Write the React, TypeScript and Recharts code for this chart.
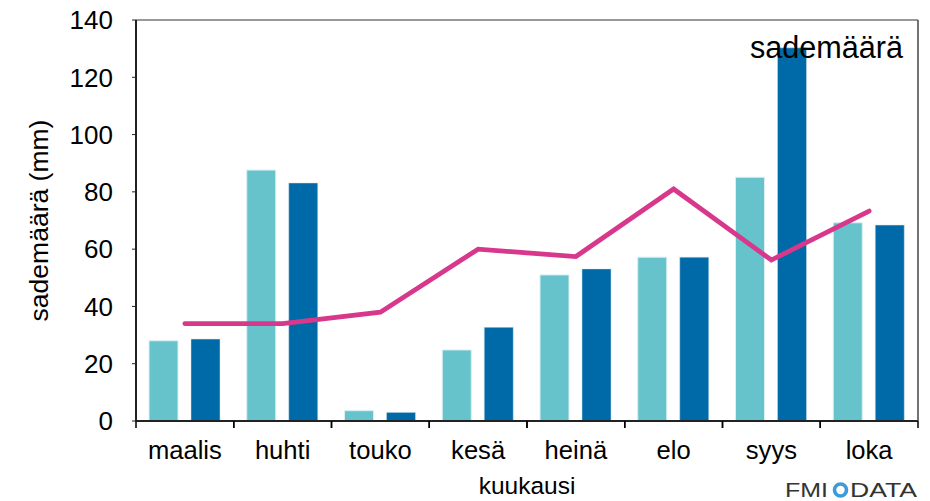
import React from 'react';
import { ComposedChart, Bar, Line, XAxis, YAxis, CartesianGrid } from 'recharts';

const months = ['maalis', 'huhti', 'touko', 'kesä', 'heinä', 'elo', 'syys', 'loka'];
const rainA = [28.0, 87.6, 3.6, 24.8, 51.0, 57.2, 85.1, 69.2];
const rainB = [28.6, 83.1, 3.0, 32.7, 53.1, 57.2, 130.3, 68.4];
const rainAvg = [34, 34, 38, 60, 57.4, 81, 56.2, 73.3];
const yTicks = [0, 20, 40, 60, 80, 100, 120, 140];

const data = months.map((m, i) => ({ m, a: rainA[i], b: rainB[i], avg: rainAvg[i] }));

const FONT = '"Liberation Sans", Arial, sans-serif';

const XTick = (props: any) => {
  const { x, y, payload } = props;
  const off = payload.offset ?? 0;
  return (
    <g>
      <line x1={x - off} x2={x - off} y1={y} y2={y + 7} stroke="#000" strokeWidth={1.5} />
      <line x1={x + off} x2={x + off} y1={y} y2={y + 7} stroke="#000" strokeWidth={1.5} />
      <text x={x} y={y + 20} dy="0.71em" textAnchor="middle" fontSize={25.6} fontFamily={FONT} fill="#000">
        {payload.value}
      </text>
    </g>
  );
};

const YLabel = (props: any) => {
  const vb = props.viewBox || { x: 0, y: 0, width: 0, height: 0 };
  const cx = vb.x + 48;
  const cy = vb.y + vb.height / 2;
  return (
    <text x={cx} y={cy} transform={`rotate(-90 ${cx} ${cy})`} textAnchor="middle" fontSize={26.5} fontFamily={FONT} fill="#000">
      sademäärä (mm)
    </text>
  );
};

const XLabel = (props: any) => {
  const vb = props.viewBox || { x: 0, y: 0, width: 0, height: 0 };
  const cx = vb.x + vb.width / 2;
  return (
    <text x={cx} y={vb.y + 73} textAnchor="middle" fontSize={24.5} fontFamily={FONT} fill="#000">
      kuukausi
    </text>
  );
};

export default function App() {
  return (
    <div style={{ position: 'absolute', left: 0, top: 0, width: 930, height: 501, background: '#fff', fontFamily: FONT }}>
      <ComposedChart width={930} height={501} data={data} margin={{ top: 20, right: 0, left: 0, bottom: 0 }} barSize={29} barGap={13}>
        <CartesianGrid vertical={false} stroke="#333" strokeWidth={1} />
        <XAxis
          dataKey="m"
          height={80}
          tickLine={false}
          tickSize={0}
          tickMargin={0}
          axisLine={{ stroke: '#222', strokeWidth: 2 }}
          tick={<XTick />}
          interval={0}
          label={<XLabel />}
        />
        <YAxis
          yAxisId="l"
          width={136}
          domain={[0, 140]}
          ticks={yTicks}
          tickSize={4}
          tickMargin={19}
          tickLine={{ stroke: '#222' }}
          axisLine={{ stroke: '#222', strokeWidth: 2 }}
          tick={{ fontSize: 26, fill: '#000', fontFamily: FONT }}
          label={<YLabel />}
        />
        <YAxis yAxisId="r" orientation="right" width={12} domain={[0, 140]} ticks={yTicks} tick={false} tickLine={false} axisLine={{ stroke: '#444', strokeWidth: 1.5 }} />
        <Bar yAxisId="l" dataKey="a" fill="#66c3cc" stroke="#d9eff2" strokeWidth={1} isAnimationActive={false} />
        <Bar yAxisId="l" dataKey="b" fill="#0069a7" stroke="#cfe3ef" strokeWidth={0.5} isAnimationActive={false} />
        <Line yAxisId="l" dataKey="avg" type="linear" stroke="#d8388b" strokeWidth={4.8} dot={false} strokeLinecap="round" isAnimationActive={false} />
      </ComposedChart>
      <svg width={930} height={501} style={{ position: 'absolute', left: 0, top: 0, pointerEvents: 'none' }}>
        <text x={903} y={58} textAnchor="end" fontSize={30.6} fontFamily={FONT} fill="#000">sademäärä</text>
        <text x={785} y={497} fontSize={20} fontFamily={FONT} fill="#333" textLength={43} lengthAdjust="spacingAndGlyphs">FMI</text>
        <circle cx={840.5} cy={490} r={6} fill="none" stroke="#3d9bd8" strokeWidth={3.6} />
        <text x={850} y={497} fontSize={20} fontFamily={FONT} fill="#333" textLength={67} lengthAdjust="spacingAndGlyphs">DATA</text>
      </svg>
    </div>
  );
}
